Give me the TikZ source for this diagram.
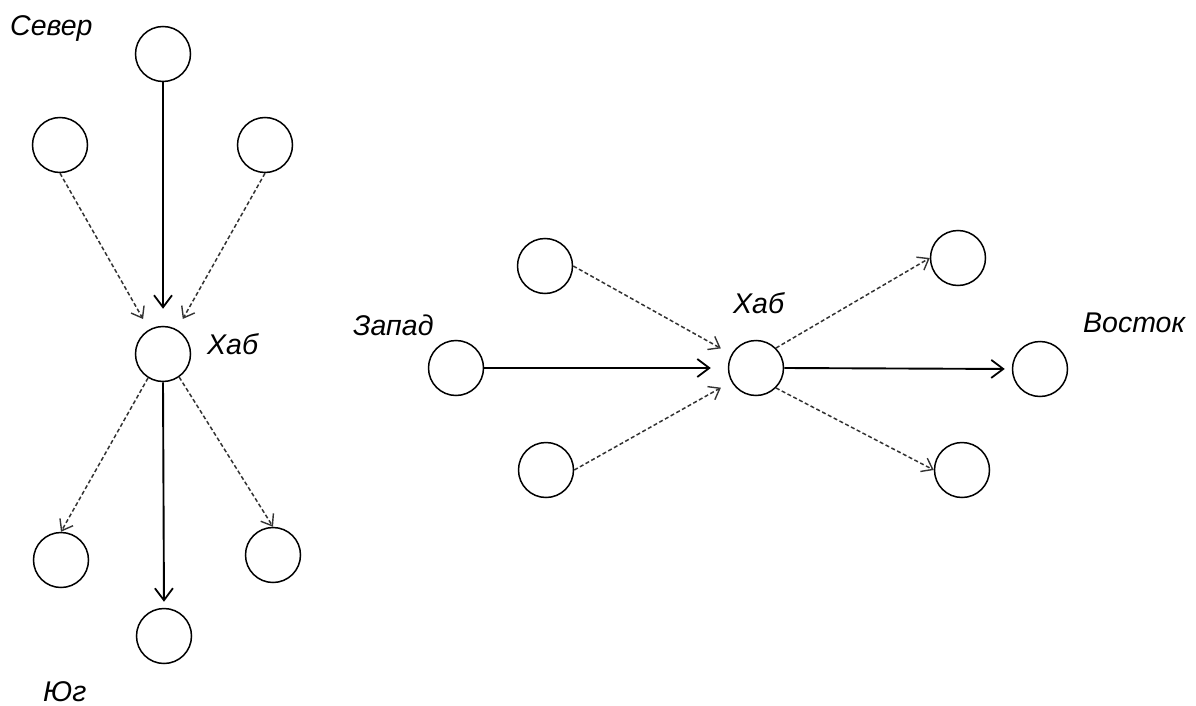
\documentclass[tikz,border=0pt]{standalone}
\usepackage{fontspec}
\setmainfont{Liberation Sans}
\usetikzlibrary{arrows.meta}
\begin{document}
\begin{tikzpicture}[x=1pt,y=-1pt,
  site/.style={circle,draw=black,line width=1.5pt,minimum size=55pt,inner sep=0pt},
  lbl/.style={anchor=base west,inner sep=0pt,font=\fontsize{28.5}{30}\selectfont\itshape},
  main/.style={line width=1.9pt,-{Straight Barb[length=12pt,width=18pt,line width=1.8pt]}},
  side/.style={line width=1.5pt,draw=black!80,dash pattern=on 4pt off 2.5pt,
    -{Straight Barb[length=10pt,width=15pt,line width=1.4pt]}}]
\useasboundingbox (0,0) rectangle (1196,706);

% north-south hub
\node[site] (n)   at (163,54)  {};
\node[site] (nl)  at (60,145)  {};
\node[site] (nr)  at (265,145) {};
\node[site] (h1)  at (163,354) {};
\node[site] (sl)  at (61,560)  {};
\node[site] (sr)  at (273,555) {};
\node[site] (s)   at (164,636) {};

\node[lbl] (tn)  at (10,36)  {Север};
\node[lbl] (th1) at (207,354) {Хаб};
\node[lbl] (ts)  at (43,701) {Юг};

\draw[main,shorten >=17pt] (n.south) -- (h1.north);
\draw[side,shorten >=12pt] (nl.south) -- (h1);
\draw[side,shorten >=12pt] (nr.south) -- (h1);
\draw[main,shorten >=6pt] (h1.south) -- (s.north);
\draw[side] (h1.-122) -- (sl.north);
\draw[side] (h1.-55) -- (sr.north);

% west-east hub
\node[site] (w)   at (456,368)  {};
\node[site] (wu)  at (545,266)  {};
\node[site] (wd)  at (546,470)  {};
\node[site] (h2)  at (756,368)  {};
\node[site] (eu)  at (958,258)  {};
\node[site] (e)   at (1040,369) {};
\node[site] (ed)  at (962,470)  {};

\node[lbl] (tw)  at (353,335)  {Запад};
\node[lbl] (th2) at (733,313)  {Хаб};
\node[lbl] (te)  at (1083,332) {Восток};

\draw[main,shorten >=17pt] (w.east) -- (h2.west);
\draw[side,shorten >=12pt] (wu.east) -- (h2);
\draw[side,shorten >=12pt] (wd.east) -- (h2);
\draw[main,shorten >=7pt] (h2.east) -- (e.west);
\draw[side] (h2.45) -- (eu.west);
\draw[side] (h2.-45) -- (ed.west);
\end{tikzpicture}
\end{document}
